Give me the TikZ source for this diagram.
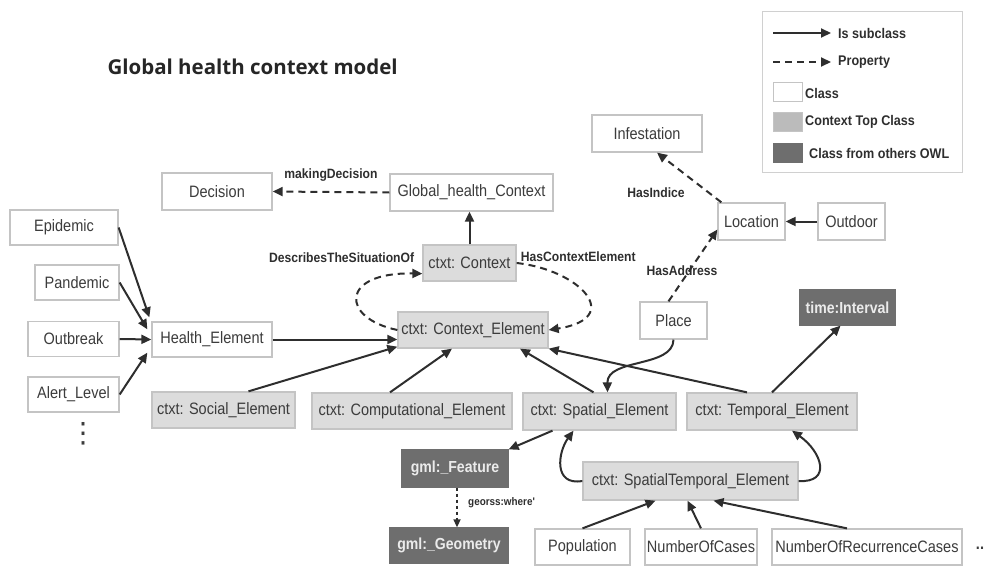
\documentclass[tikz,border=0pt]{standalone}
\usepackage{fontspec}
\usetikzlibrary{arrows.meta}
\newfontfamily\boxfont[FakeStretch=0.88]{Liberation Sans}
\newfontfamily\lblfont[FakeStretch=0.9]{Liberation Sans}
\newfontfamily\titlefont{Open Sans}
\newfontfamily\symfont{DejaVu Sans}
\definecolor{edgegray}{HTML}{2E2E2E}
\definecolor{txtgray}{HTML}{3C3C3C}
\definecolor{framegray}{HTML}{C4C4C4}
\definecolor{topfill}{HTML}{DCDCDC}
\definecolor{owlfill}{HTML}{6E6E6E}
\begin{document}
\begin{tikzpicture}[x=1pt,y=-1pt,
  cls/.style={draw=framegray, line width=1.3pt, fill=white, text=txtgray,
    font=\boxfont\fontsize{16.5}{18}\selectfont, inner sep=0pt,
    minimum height=36pt},
  topcls/.style={cls, fill=topfill},
  owlcls/.style={cls, fill=owlfill, draw=owlfill, text=white!92!black,
    font=\boxfont\bfseries\fontsize{16}{18}\selectfont},
  sub/.style={-{Triangle[length=10pt,width=9pt]}, line width=2pt, draw=edgegray},
  prop/.style={sub, dash pattern=on 7pt off 5pt},
  fineprop/.style={-{Triangle[length=8pt,width=7pt]}, line width=1.6pt,
    draw=edgegray, dash pattern=on 3pt off 3pt},
  lbl/.style={font=\lblfont\bfseries\fontsize{13.5}{15}\selectfont, text=edgegray, inner sep=0pt},
  legtxt/.style={font=\lblfont\bfseries\fontsize{14}{16}\selectfont, text=edgegray, inner sep=0pt, anchor=west},
  swatch/.style={draw=framegray, line width=1pt, minimum width=29pt, minimum height=19pt, inner sep=0pt}
]
\useasboundingbox (0,0) rectangle (987,567);

% title
\node[font=\titlefont\bfseries\fontsize{20.5}{24}\selectfont, text=black!85, anchor=west] (title) at (104,67) {Global health context model};

% legend
\node[draw=framegray!80, line width=1pt, minimum width=200pt, minimum height=160pt, inner sep=0pt] (legend) at (862,92) {};
\coordinate (lsa) at (773,33); \coordinate (lsb) at (831,33);
\coordinate (lpa) at (773,62); \coordinate (lpb) at (831,62);
\draw[sub] (lsa) -- (lsb);
\draw[prop] (lpa) -- (lpb);
\node[legtxt] (lsub) at (838,33) {Is subclass};
\node[legtxt] (lprop) at (838,62) {Property};
\node[swatch, fill=white] (sw1) at (787.5,92.5) {};
\node[swatch, fill=topfill!85!black] (sw2) at (787.5,122) {};
\node[swatch, fill=owlfill, draw=owlfill] (sw3) at (787.5,153) {};
\node[legtxt] (lcls) at (805,93) {Class};
\node[legtxt] (ltop) at (805,122) {Context Top Class};
\node[legtxt] (lowl) at (809,153) {Class from others OWL};

% classes
\node[cls, minimum width=110pt, minimum height=37pt] (inf) at (647,133.5) {Infestation};
\node[cls, minimum width=110pt, minimum height=37pt] (dec) at (217,191.5) {Decision};
\node[cls, minimum width=163pt, minimum height=37pt] (ghc) at (471.5,192.5) {Global\_health\_Context};
\node[cls, minimum width=108pt, minimum height=35pt] (epi) at (64,227.5) {Epidemic};
\node[cls, minimum width=84pt, minimum height=35pt] (pan) at (77,282.5) {Pandemic};
\node[cls, minimum width=91pt, minimum height=35pt] (outb) at (73.5,339) {Outbreak};
\node[cls, minimum width=91pt, minimum height=35pt] (alert) at (73.5,394.5) {Alert\_Level};
\node[text=txtgray, font=\symfont\fontsize{28}{28}\selectfont, inner sep=0pt] (dots) at (83,434) {⋮};
\node[cls, minimum width=120pt, minimum height=35pt] (he) at (212,339.5) {Health\_Element};
\node[topcls, minimum width=93pt, minimum height=36pt] (ctx) at (469.5,263) {ctxt: Context};
\node[topcls, minimum width=150pt, minimum height=36pt] (ce) at (473,330) {ctxt: Context\_Element};
\node[cls, minimum width=67pt, minimum height=37pt] (loc) at (751.5,221.5) {Location};
\node[cls, minimum width=67pt, minimum height=37pt] (outd) at (851.5,221.5) {Outdoor};
\node[cls, minimum width=67pt, minimum height=37pt] (place) at (673.5,320.5) {Place};
\node[owlcls, minimum width=95pt, minimum height=35pt] (ti) at (847.5,307.5) {time:Interval};
\node[topcls, minimum width=143pt] (soc) at (223.5,410) {ctxt: Social\_Element};
\node[topcls, minimum width=200pt] (comp) at (412,411) {ctxt: Computational\_Element};
\node[topcls, minimum width=153pt, minimum height=37pt] (spa) at (599.5,411.5) {ctxt: Spatial\_Element};
\node[topcls, minimum width=170pt, minimum height=37pt] (tem) at (772,411.5) {ctxt: Temporal\_Element};
\node[owlcls, minimum width=106pt, minimum height=37pt] (feat) at (455,468.5) {gml:\_Feature};
\node[owlcls, minimum width=118pt, minimum height=35pt] (geo) at (449,545.5) {gml:\_Geometry};
\node[topcls, minimum width=215pt, minimum height=38pt] (st) at (690.5,481) {ctxt: SpatialTemporal\_Element};
\node[cls, minimum width=95pt] (pop) at (582.5,547) {Population};
\node[cls, minimum width=112pt] (noc) at (701,547) {NumberOfCases};
\node[cls, minimum width=190pt] (nor) at (867,547) {NumberOfRecurrenceCases};
\node[text=txtgray, font=\boxfont\bfseries\fontsize{16.5}{18}\selectfont, inner sep=0pt] (more) at (980,548) {..};

% properties
\draw[prop] (ghc.west) -- (dec.east) node[lbl, midway, above=10pt] (lmd) {makingDecision};
\draw[prop] (ctx.east) .. controls (580,270) and (625,318) .. (ce.east);
\draw[prop] (ce.west) .. controls (340,318) and (340,272) .. ([yshift=8pt]ctx.south west);
\node[lbl, anchor=west] (lhce) at ([xshift=4pt,yshift=6pt]ctx.east) {HasContextElement};
\node[lbl, anchor=east] (ldts) at ([xshift=-8pt,yshift=5pt]ctx.west) {DescribesTheSituationOf};
\draw[prop] ([xshift=-5pt]place.north) -- ([yshift=-8pt]loc.west);
\node[lbl] (lha) at (682,271) {HasAddress};
\draw[prop] ([xshift=4pt]loc.north west) -- ([xshift=10pt]inf.south);
\node[lbl] (lhi) at (656,193) {HasIndice};
\draw[fineprop] ([xshift=2pt]feat.south) -- ([xshift=2pt]feat.south |- geo.north);
\node[lbl, anchor=west, font=\lblfont\bfseries\fontsize{11}{13}\selectfont] (lgeo) at (468,503) {georss:where'};

% subclass links
\draw[sub] (ctx.north) -- (ctx.north |- ghc.south);
\draw[sub] (outd.west) -- (loc.east);
\draw[sub] (epi.east) -- ([xshift=-2pt,yshift=4pt]he.north west);
\draw[sub] (pan.east) -- ([xshift=-4pt,yshift=-8pt]he.north west);
\draw[sub] (outb.east) -- (he.west);
\draw[sub] (alert.east) -- ([xshift=-4pt,yshift=5pt]he.south west);
\draw[sub] (he.east) -- (he.east -| ce.west);
\draw[sub] ([xshift=25pt]soc.north) -- ([yshift=2pt]ce.south west);
\draw[sub] ([xshift=-22pt]comp.north) -- ([xshift=-21pt]ce.south);
\draw[sub] ([xshift=-6pt]spa.north) -- ([xshift=47pt]ce.south);
\draw[sub] ([xshift=-25pt]tem.north) -- (ce.south east);
\draw[sub] (tem.north) -- ([xshift=-7pt]ti.south);
\draw[sub] (place.south) .. controls (673,368) and (607,358) .. ([xshift=8pt]spa.north);
\draw[sub] ([xshift=-47pt]spa.south) -- (feat.north east);
\draw[sub] (st.west) .. controls (553,486) and (558,452) .. ([xshift=-26pt]spa.south);
\draw[sub] (st.east) .. controls (832,483) and (822,452) .. ([xshift=20pt]tem.south);
\draw[sub] (pop.north) -- ([xshift=-35pt]st.south);
\draw[sub] (noc.north) -- ([xshift=-3pt]st.south);
\draw[sub] ([xshift=-20pt]nor.north) -- ([xshift=23pt]st.south);
\end{tikzpicture}
\end{document}
